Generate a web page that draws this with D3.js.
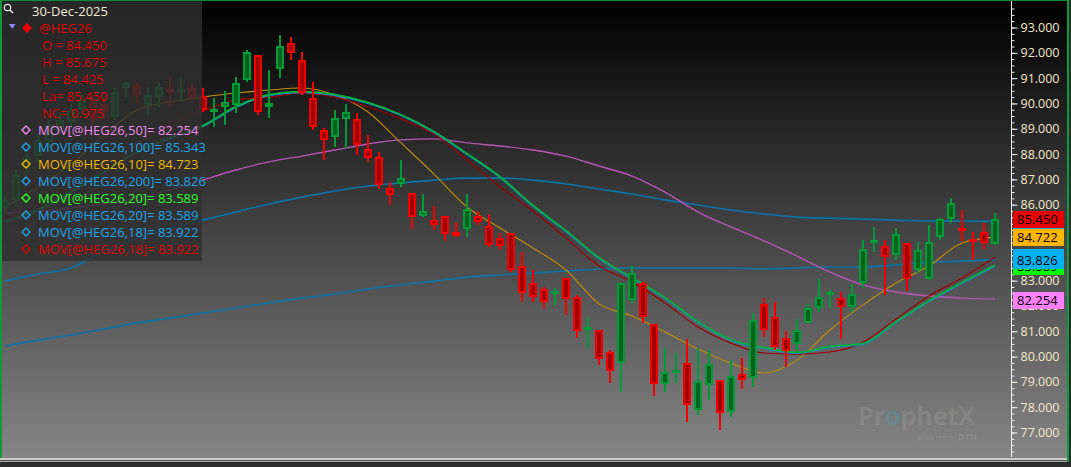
<!DOCTYPE html>
<html>
<head>
<meta charset="utf-8">
<title>@HEG26</title>
<script src="https://cdnjs.cloudflare.com/ajax/libs/d3/7.8.5/d3.min.js"></script>
<style>
body { margin:0; background:#2c2c2c; }
svg { display:block; font-family:"Open Sans", sans-serif; }
</style>
</head>
<body>
<svg id="chart" width="1071" height="467"></svg>
<script>
// daily bars, oldest first, last bar = 30-Dec-2025
var opens = [85.875,86.175,87.450,87.925,88.475,89.025,89.275,89.750,90.050,89.975,
  89.475,90.600,90.725,89.950,90.250,90.575,90.500,90.600,90.300,89.700,
  89.875,89.950,90.925,91.925,89.850,91.350,92.375,91.725,90.225,88.950,
  88.675,89.375,89.375,88.200,87.875,86.650,86.825,86.450,85.550,85.400,
  85.550,84.925,85.050,85.550,85.150,84.675,84.875,83.575,82.900,82.675,
  82.500,83.100,82.350,81.050,81.050,80.175,79.750,82.225,82.900,81.275,
  78.925,79.400,79.750,77.875,78.875,79.075,77.800,79.300,79.150,82.075,
  81.550,80.725,80.500,81.325,81.925,82.475,82.300,81.950,82.900,84.475,
  84.375,84.000,84.475,83.425,83.075,84.725,85.425,85.075,84.650,84.925,84.450];
var highs = [86.350,87.375,88.075,88.750,89.350,89.650,89.975,90.325,90.300,90.225,
  90.600,90.850,90.850,90.650,90.850,91.050,91.050,90.800,90.600,90.225,
  90.475,91.050,92.100,91.925,91.325,92.700,92.625,92.025,90.850,89.025,
  89.750,89.975,89.625,88.750,88.075,86.900,87.775,86.450,86.425,85.950,
  85.550,85.325,86.425,85.750,85.625,84.875,84.875,84.125,83.425,82.750,
  82.700,83.100,82.425,81.550,81.050,80.250,82.925,83.625,82.950,81.275,
  80.325,80.150,80.700,80.325,80.250,79.075,79.875,79.950,81.725,82.300,
  82.150,81.000,81.475,82.075,83.075,82.625,82.550,82.875,84.600,85.125,
  84.600,85.075,84.475,84.525,85.200,85.475,86.275,85.800,84.925,85.275,85.675];
var lows = [85.700,85.975,87.175,87.675,88.250,88.750,89.025,89.550,89.150,89.350,
  89.350,90.250,90.025,89.550,89.850,89.850,90.050,90.050,89.650,89.075,
  89.150,89.625,90.850,89.550,89.425,91.000,91.725,90.325,88.950,87.775,
  88.275,88.250,87.975,87.675,86.625,85.975,86.700,85.050,85.500,85.000,
  84.575,84.725,84.725,85.200,84.325,84.200,83.350,82.150,82.150,81.875,
  82.025,81.650,80.725,80.325,79.675,78.950,78.600,82.125,81.325,78.450,
  78.600,78.950,77.425,77.700,78.275,77.100,77.600,78.725,78.800,80.775,
  80.250,79.575,80.150,81.325,81.750,81.925,80.700,81.750,82.700,84.125,
  82.425,83.825,82.600,83.300,83.025,84.600,85.275,84.575,83.825,84.250,84.425];
var closes = [86.175,87.175,87.850,88.550,89.150,89.350,89.750,90.125,89.350,89.650,
  90.450,90.800,90.325,90.325,90.650,90.450,90.575,90.250,89.750,89.775,
  90.075,90.800,92.025,89.650,90.025,92.275,92.000,90.400,89.075,88.550,
  89.425,89.650,88.350,87.850,86.775,86.375,87.050,85.500,85.750,85.200,
  84.850,84.775,85.825,85.325,84.400,84.375,83.425,82.500,82.350,82.150,
  82.600,82.275,81.000,81.175,79.900,79.425,82.900,83.300,81.550,78.925,
  79.400,79.475,78.075,79.025,79.700,77.775,79.225,79.075,81.450,81.050,
  80.375,80.225,81.050,81.925,82.350,82.550,81.950,82.475,84.250,84.600,
  83.925,84.850,83.075,84.200,84.525,85.425,86.075,84.950,84.575,84.475,85.450];

// moving averages, one value every 3rd bar (bar 0, 3, ... 90)
var maStep = 3;
var ma10 = [85.90,86.70,87.60,88.75,89.74,90.06,90.25,90.41,90.53,90.61,90.33,89.66,88.44,87.21,85.91,85.08,
  84.29,83.42,82.08,81.60,80.97,80.30,79.74,79.35,79.86,81.05,82.04,82.91,83.58,84.49,84.72];
var ma18 = [85.47,85.99,86.78,87.57,88.36,89.15,89.70,90.14,90.25,90.41,90.25,89.86,89.39,88.79,87.77,86.70,
  85.75,84.68,83.58,82.95,82.12,81.17,80.53,80.14,80.10,80.18,80.57,81.48,82.39,83.10,83.92];
var ma20 = [85.32,85.79,86.50,87.29,88.08,88.63,89.11,89.86,90.33,90.45,90.33,90.02,89.54,88.87,88.00,87.09,
  85.95,84.96,83.89,83.10,82.31,81.36,80.65,80.34,80.14,80.38,80.50,81.36,82.19,82.91,83.59];
var ma50 = [85.67,85.75,85.87,86.03,86.26,86.58,86.98,87.37,87.69,87.92,88.16,88.40,88.56,88.60,88.44,88.32,
  88.16,87.92,87.53,87.13,86.50,85.71,85.12,84.57,83.97,83.34,82.83,82.55,82.39,82.31,82.27];
var ma100 = [82.98,83.26,83.50,84.17,84.68,85.08,85.39,85.71,86.03,86.30,86.54,86.74,86.86,86.97,87.05,87.05,
  86.97,86.82,86.62,86.42,86.19,85.99,85.79,85.63,85.51,85.47,85.43,85.39,85.35,85.35,85.34];
var ma200 = [80.42,80.65,80.85,81.09,81.33,81.52,81.72,81.92,82.12,82.31,82.47,82.67,82.83,82.98,83.14,83.22,
  83.30,83.38,83.46,83.50,83.50,83.50,83.50,83.46,83.50,83.54,83.54,83.62,83.73,83.77,83.83];

var symbol = "@HEG26";
var lastDate = "30-Dec-2025";
var maLabels = ["MOV[@HEG26,50]","MOV[@HEG26,100]","MOV[@HEG26,10]","MOV[@HEG26,200]",
  "MOV[@HEG26,20]","MOV[@HEG26,20]","MOV[@HEG26,18]","MOV[@HEG26,18]"];
var maLastValues = [82.254,85.343,84.723,83.826,83.589,83.589,83.922,83.922];
// axis tags, back to front; the ones fully covered show no text
var tagValues = [85.343,85.450,84.722,83.922,83.589,83.826,82.254];
var tagShown = [false,true,true,false,true,true,true];
var yTicks = d3.range(77, 94);

var W = 1071, H = 467, plotRight = 1008, plotBottom = 458;
var svg = d3.select("#chart");
var defs = svg.append("defs");

var grad = defs.append("linearGradient").attr("id","bg")
  .attr("gradientUnits","userSpaceOnUse").attr("x1",0).attr("y1",0).attr("x2",0).attr("y2",plotBottom);
grad.append("stop").attr("offset",0).attr("stop-color","#000");
grad.append("stop").attr("offset",1).attr("stop-color","#858585");

defs.append("clipPath").attr("id","plotClip")
  .append("rect").attr("x",0).attr("y",0).attr("width",plotRight).attr("height",plotBottom);

svg.append("rect").attr("width",W).attr("height",H).attr("fill","#2c2c2c");
svg.append("rect").attr("width",1068).attr("height",plotBottom).attr("fill","url(#bg)");

// bottom bar
svg.append("rect").attr("x",0).attr("y",458).attr("width",1068).attr("height",2).attr("fill","#c8c8c8");
svg.append("rect").attr("x",0).attr("y",460).attr("width",1068).attr("height",1).attr("fill","#5a5a5a");
svg.append("rect").attr("x",0).attr("y",461).attr("width",1068).attr("height",1).attr("fill","#a8a8a8");

var x = d3.scaleLinear().domain([0, opens.length - 1]).range([5, 995]);
var y = d3.scaleLinear().domain([77, 93]).range([432.5, 27.5]);

// watermark
var wm = svg.append("g").attr("font-weight","bold");
var wmt = wm.append("text").attr("x",858).attr("y",425).attr("font-size",25)
  .attr("textLength",117).attr("lengthAdjust","spacingAndGlyphs")
  .attr("fill","rgba(255,255,255,0.10)");
wmt.append("tspan").text("Pr");
wmt.append("tspan").attr("fill","rgba(70,160,190,0.35)").text("o");
wmt.append("tspan").text("phetX");
wm.append("text").attr("x",977).attr("y",440).attr("text-anchor","end").attr("font-size",7)
  .attr("font-weight","normal").attr("fill","rgba(255,255,255,0.10)")
  .text("powered by ").append("tspan").attr("font-weight","bold").attr("font-size",9).text("DTN");

var plot = svg.append("g").attr("clip-path","url(#plotClip)");

function maLine(vals) {
  return d3.line()
    .x(function(d, k){ return x(k * maStep); })
    .y(function(d){ return y(d); })
    .curve(d3.curveMonotoneX)(vals);
}
function addLine(vals, color, width, dy) {
  plot.append("path").attr("d", maLine(vals)).attr("fill","none")
    .attr("stroke", color).attr("stroke-width", width)
    .attr("transform", "translate(0," + (dy || 0) + ")");
}
addLine(ma200, "#0874aa", 1.6);
addLine(ma100, "#0874aa", 1.6);
addLine(ma50, "#b655b6", 1.4);
addLine(ma10, "#c48c08", 1.1);
addLine(ma18, "#9c0000", 1.2);
addLine(ma20, "#1a88cc", 2.2);
addLine(ma20, "#00b42a", 1.5, -0.5);

// candles
var upStroke = "#009a38", upFill = "#00641e", dnStroke = "#f00000", dnFill = "#a00000";
var bars = opens.map(function(o, i){ return {i:i, o:o, h:highs[i], l:lows[i], c:closes[i]}; });
function isUp(d){ return d.c >= d.o; }

plot.selectAll(".wick").data(bars).enter().append("line")
  .attr("class","wick")
  .attr("x1", function(d){ return x(d.i); })
  .attr("x2", function(d){ return x(d.i); })
  .attr("y1", function(d){ return Math.round(y(d.h)); })
  .attr("y2", function(d){ return Math.round(y(d.l)); })
  .attr("stroke", function(d){ return isUp(d) ? upStroke : dnStroke; })
  .attr("stroke-width", 2);

plot.selectAll(".body").data(bars).enter().append("rect")
  .attr("class","body")
  .attr("x", function(d){ return x(d.i) - 3; })
  .attr("width", 6)
  .attr("y", function(d){ return Math.round(y(Math.max(d.o, d.c))) + 1; })
  .attr("height", function(d){
    var t = Math.round(y(Math.max(d.o, d.c))), b = Math.round(y(Math.min(d.o, d.c)));
    return Math.max(b - t - 2, 1);
  })
  .attr("fill", function(d){ return isUp(d) ? upFill : dnFill; })
  .attr("stroke", function(d){ return isUp(d) ? upStroke : dnStroke; })
  .attr("stroke-width", 2);

// legend panel
var fmt = d3.format(".3f");
var last = bars.length - 1;
var fs = 13;
var lg = svg.append("g");
lg.append("rect").attr("x",2).attr("y",1).attr("width",200).attr("height",260)
  .attr("fill","rgba(47,47,47,0.82)");
lg.append("circle").attr("cx",7.5).attr("cy",7.5).attr("r",3.2).attr("fill","none")
  .attr("stroke","#e8e8e8").attr("stroke-width",1.2);
lg.append("line").attr("x1",10).attr("y1",10).attr("x2",13).attr("y2",13)
  .attr("stroke","#e8e8e8").attr("stroke-width",1.5);
lg.append("text").attr("x",32).attr("y",16).attr("font-size",fs).attr("fill","#f2ead2").text(lastDate);
lg.append("path").attr("d","M9,24L15.5,24L12.25,29Z").attr("fill","#8a8aff");
lg.append("path").attr("d","M27,23L32,28L27,33L22,28Z").attr("fill","#ee0000");
lg.append("text").attr("x",39).attr("y",33).attr("font-size",fs).attr("fill","#e00000").text(symbol);

var ohlcRows = [
  "O = " + fmt(opens[last]),
  "H = " + fmt(highs[last]),
  "L = " + fmt(lows[last]),
  "La= " + fmt(closes[last]),
  "NC= " + fmt(closes[last] - closes[last - 1])
];
lg.selectAll(".ohlc").data(ohlcRows).enter().append("text")
  .attr("x",42).attr("y", function(d, k){ return 50 + 17 * k; })
  .attr("font-size",fs).attr("fill","#dd0000").text(function(d){ return d; });

var maColors = ["#f28af2","#1ea4ea","#f2b800","#1ea4ea","#2cff2c","#1ea4ea","#1ea4ea","#e00000"];
var rows = lg.selectAll(".marow").data(maLabels).enter().append("g")
  .attr("transform", function(d, k){ return "translate(0," + (135 + 17 * k) + ")"; });
rows.append("path").attr("d","M26,-9L30,-5L26,-1L22,-5Z").attr("fill","none")
  .attr("stroke", function(d, k){ return maColors[k]; }).attr("stroke-width",1.4);
rows.append("text").attr("x",38).attr("font-size",fs)
  .attr("fill", function(d, k){ return maColors[k]; })
  .text(function(d, k){ return d + "= " + fmt(maLastValues[k]); });

// right price axis
var axisX = 1011.5;
svg.append("line").attr("x1",axisX).attr("x2",axisX).attr("y1",0).attr("y2",457)
  .attr("stroke","#f4f4f4").attr("stroke-width",1);
var minor = svg.append("g").attr("transform","translate(" + axisX + ",0)")
  .call(d3.axisRight(y).tickValues(d3.range(76.25, 94, 0.25)).tickSize(3).tickFormat(""));
var major = svg.append("g").attr("transform","translate(" + axisX + ",0)")
  .call(d3.axisRight(y).tickValues(yTicks).tickSize(6).tickPadding(3).tickFormat(fmt));
[minor, major].forEach(function(g){
  g.select(".domain").remove();
  g.selectAll("line").attr("stroke","#f4f4f4");
});
major.selectAll("text").attr("fill","#f5e8c8").attr("font-size",12.5)
  .attr("font-family","'Open Sans', sans-serif");

// price tags on the axis
var tagColors = ["#00b0f0","#e60000","#ffb400","#00b0f0","#00ff00","#00b0f0","#ff80ff"];
var tags = svg.selectAll(".tag").data(tagValues).enter().append("g")
  .attr("transform", function(d){ return "translate(1013," + (Math.round(y(d)) - 8) + ")"; });
tags.append("rect").attr("width",51).attr("height",17)
  .attr("fill", function(d, k){ return tagColors[k]; });
tags.filter(function(d, k){ return tagShown[k]; })
  .append("text").attr("x",4).attr("y",13).attr("font-size",13).attr("fill","#000")
  .text(function(d){ return fmt(d); });

// window border
svg.append("rect").attr("x",0).attr("y",0).attr("width",2).attr("height",458).attr("fill","#0c9a3c");
svg.append("rect").attr("x",0).attr("y",0).attr("width",1069).attr("height",1).attr("fill","#0c8a36");
svg.append("rect").attr("x",1067).attr("y",0).attr("width",2).attr("height",462).attr("fill","#0c9a3c");
</script>
</body>
</html>
